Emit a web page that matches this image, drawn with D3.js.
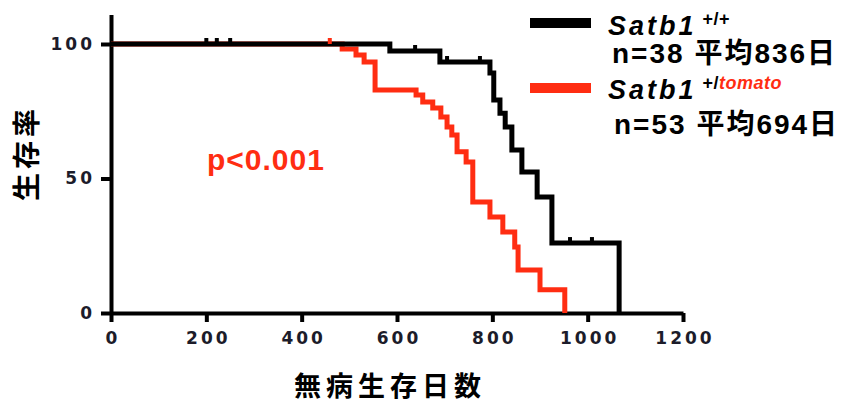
<!DOCTYPE html>
<html>
<head>
<meta charset="utf-8">
<script src="https://cdn.jsdelivr.net/npm/d3@7"></script>
<style>
body { margin: 0; background: #fff; }
svg { display: block; }
.tick text { font-family: "DejaVu Sans", sans-serif; font-weight: bold; font-size: 17px; letter-spacing: 3px; fill: #1c1c2a; }
.lbl { font-family: "Liberation Sans", Arial, "Noto Sans CJK JP", sans-serif; font-weight: bold; }
</style>
</head>
<body>
<svg width="845" height="403"></svg>
<script>
// survival curves (days, % surviving)
const wtDays = [0, 585, 690, 795, 803, 816, 827, 841, 862, 894, 925, 1066]
const wtSurv = [100, 97.4, 93.3, 89.2, 79.2, 74.3, 69.1, 60.6, 52.4, 43.1, 26.0, 0]
const wtCensorDays = [200, 222, 250, 638, 705, 774, 963, 1009]
const wtCensorSurv = [100, 100, 100, 97.4, 93.3, 93.3, 26.0, 26.0]

const tmDays = [0, 485, 514, 531, 554, 640, 654, 675, 692, 705, 715, 726, 745, 759, 795, 822, 847, 854, 900, 952]
const tmSurv = [100, 98.1, 95.9, 93.3, 82.9, 81.0, 78.4, 76.2, 72.9, 69.1, 66.2, 59.9, 56.1, 41.3, 35.7, 30.1, 24.5, 16.0, 8.6, 0]
const tmCensorDays = [459]
const tmCensorSurv = [100]

const xTicks = [0, 200, 400, 600, 800, 1000, 1200]
const yTicks = [0, 50, 100]

const red = "#ff2d12"

const svg = d3.select("svg")

const x = d3.scaleLinear().domain([0, 1200]).range([111, 683])
const y = d3.scaleLinear().domain([0, 100]).range([313, 44])
const yAxisScale = d3.scaleLinear().domain([0, 111]).range([y(0), y(111)])

//axes
const xAxis = svg.append("g")
	.attr("transform", `translate(0,${y(0)})`)
	.call(d3.axisBottom(x).tickValues(xTicks).tickFormat(d3.format("d")).tickSize(9).tickSizeOuter(0).tickPadding(10))
xAxis.selectAll("text").attr("dx", "1.5px")

const yAxis = svg.append("g")
	.attr("transform", `translate(${x(0)},0)`)
	.call(d3.axisLeft(yAxisScale).tickValues(yTicks).tickSize(10).tickSizeOuter(0).tickPadding(6))

svg.selectAll(".domain").attr("stroke", "#000").attr("stroke-width", 4)
svg.selectAll(".tick line").attr("stroke", "#000").attr("stroke-width", 4)

//curves
const line = d3.line()
	.x(d => x(d[0]))
	.y(d => y(d[1]))
	.curve(d3.curveStepAfter)

svg.append("path")
	.datum(d3.zip(tmDays, tmSurv))
	.attr("d", line)
	.attr("fill", "none")
	.attr("stroke", red)
	.attr("stroke-width", 5)

svg.append("path")
	.datum(d3.zip(wtDays, wtSurv))
	.attr("d", line)
	.attr("fill", "none")
	.attr("stroke", "#000")
	.attr("stroke-width", 5)

//censor marks
function censor(days, surv, color) {
	svg.selectAll(null)
		.data(d3.zip(days, surv))
		.enter()
		.append("line")
		.attr("x1", d => x(d[0]))
		.attr("x2", d => x(d[0]))
		.attr("y1", d => y(d[1]))
		.attr("y2", d => y(d[1]) - 6)
		.attr("stroke", color)
		.attr("stroke-width", 4)
}
censor(wtCensorDays, wtCensorSurv, "#000")
censor(tmCensorDays, tmCensorSurv, red)

//axis titles
svg.append("text")
	.attr("class", "lbl")
	.attr("x", 390)
	.attr("y", 396)
	.attr("text-anchor", "middle")
	.style("font-size", "27px")
	.style("letter-spacing", "5px")
	.text("無病生存日数")

svg.append("text")
	.attr("class", "lbl")
	.attr("transform", "translate(37,153) rotate(-90)")
	.attr("text-anchor", "middle")
	.style("font-size", "28px")
	.style("letter-spacing", "4px")
	.text("生存率")

svg.append("text")
	.attr("class", "lbl")
	.attr("x", 207)
	.attr("y", 170)
	.attr("fill", red)
	.style("font-size", "30px")
	.style("letter-spacing", "1px")
	.text("p<0.001")

//legend
const legend = [
	{color: "#000", y: 23, sup: "+/+", supRed: "", n: "n=38 平均836日", tY: 35, nY: 63, nX: 612},
	{color: red, y: 88, sup: "+/", supRed: "tomato", n: "n=53 平均694日", tY: 99, nY: 134, nX: 614}
]
legend.forEach(l => {
	svg.append("line")
		.attr("x1", 530).attr("x2", 591)
		.attr("y1", l.y).attr("y2", l.y)
		.attr("stroke", l.color)
		.attr("stroke-width", 10)
	const t = svg.append("text")
		.attr("class", "lbl")
		.attr("x", 608)
		.attr("y", l.tY)
	t.append("tspan")
		.style("font-size", "27px")
		.style("font-style", "italic")
		.style("letter-spacing", "3px")
		.text("Satb1")
	t.append("tspan")
		.attr("dx", 6)
		.attr("dy", -10)
		.style("font-size", "18px")
		.style("letter-spacing", "0.5px")
		.text(l.sup)
	t.append("tspan")
		.attr("fill", red)
		.style("font-size", "18px")
		.style("font-style", "italic")
		.style("letter-spacing", "0.5px")
		.text(l.supRed)
	svg.append("text")
		.attr("class", "lbl")
		.attr("x", l.nX)
		.attr("y", l.nY)
		.style("font-size", "28px")
		.style("letter-spacing", "2px")
		.text(l.n)
})
</script>
</body>
</html>
